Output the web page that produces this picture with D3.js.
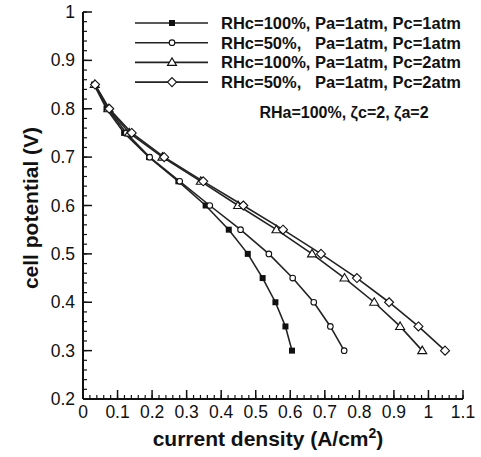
<!DOCTYPE html>
<html>
<head>
<meta charset="utf-8">
<script src="https://cdn.jsdelivr.net/npm/d3@7"></script>
<style>
body { margin: 0; background: #fff; }
svg { display: block; }
text { font-family: "Liberation Sans", Arial, sans-serif; fill: #111; }
</style>
</head>
<body>
<svg id="chart" width="481" height="457"></svg>
<script>
// voltages shared by all curves
var voltage = [0.85, 0.8, 0.75, 0.7, 0.65, 0.6, 0.55, 0.5, 0.45, 0.4, 0.35, 0.3];

// current density per series (A/cm2)
var rh100p1 = [0.032, 0.068, 0.119, 0.191, 0.276, 0.355, 0.422, 0.477, 0.520, 0.557, 0.586, 0.605];
var rh50p1  = [0.034, 0.072, 0.125, 0.193, 0.280, 0.367, 0.456, 0.538, 0.607, 0.668, 0.716, 0.756];
var rh100p2 = [0.034, 0.074, 0.134, 0.230, 0.341, 0.449, 0.560, 0.663, 0.757, 0.843, 0.918, 0.982];
var rh50p2  = [0.035, 0.076, 0.141, 0.235, 0.348, 0.464, 0.579, 0.689, 0.793, 0.886, 0.971, 1.048];

var seriesNames = [
    'RHc=100%, Pa=1atm, Pc=1atm',
    'RHc=50%,   Pa=1atm, Pc=1atm',
    'RHc=100%, Pa=1atm, Pc=2atm',
    'RHc=50%,   Pa=1atm, Pc=2atm'
];
var markers = ['square', 'circle', 'triangle', 'diamond'];
var xTicks = [0, 0.1, 0.2, 0.3, 0.4, 0.5, 0.6, 0.7, 0.8, 0.9, 1, 1.1];
var yTicks = [0.2, 0.3, 0.4, 0.5, 0.6, 0.7, 0.8, 0.9, 1];

var svg = d3.select('#chart');
var x = d3.scaleLinear().domain([0, 1.1]).range([83, 463]);
var y = d3.scaleLinear().domain([0.2, 1]).range([399, 12]);

// minor ticks every 0.02
var xMinor = d3.range(0, 1.1001, 0.02);
var yMinor = d3.range(0.2, 1.0001, 0.02);

var g = svg.append('g');

// axes lines
g.append('line').attr('x1', x(0)).attr('x2', x(1.1)).attr('y1', y(0.2)).attr('y2', y(0.2))
    .attr('stroke', '#111').attr('stroke-width', 2);
g.append('line').attr('x1', x(0)).attr('x2', x(0)).attr('y1', y(0.2)).attr('y2', y(1))
    .attr('stroke', '#111').attr('stroke-width', 2);

// inward ticks
g.selectAll('.xminor').data(xMinor).enter().append('line')
    .attr('x1', function(d) { return x(d); }).attr('x2', function(d) { return x(d); })
    .attr('y1', y(0.2)).attr('y2', y(0.2) - 4)
    .attr('stroke', '#111').attr('stroke-width', 1.2);
g.selectAll('.xmajor').data(xTicks).enter().append('line')
    .attr('x1', function(d) { return x(d); }).attr('x2', function(d) { return x(d); })
    .attr('y1', y(0.2)).attr('y2', y(0.2) - 9)
    .attr('stroke', '#111').attr('stroke-width', 1.5);
g.selectAll('.yminor').data(yMinor).enter().append('line')
    .attr('y1', function(d) { return y(d); }).attr('y2', function(d) { return y(d); })
    .attr('x1', x(0)).attr('x2', x(0) + 4)
    .attr('stroke', '#111').attr('stroke-width', 1.2);
g.selectAll('.ymajor').data(yTicks).enter().append('line')
    .attr('y1', function(d) { return y(d); }).attr('y2', function(d) { return y(d); })
    .attr('x1', x(0)).attr('x2', x(0) + 9)
    .attr('stroke', '#111').attr('stroke-width', 1.5);

// tick labels
g.selectAll('.xlab').data(xTicks).enter().append('text')
    .attr('x', function(d) { return x(d); }).attr('y', y(0.2) + 19)
    .attr('text-anchor', 'middle').attr('font-size', 17.5)
    .text(function(d) { return d; });
g.selectAll('.ylab').data(yTicks).enter().append('text')
    .attr('x', x(0) - 8).attr('y', function(d) { return y(d) + 6; })
    .attr('text-anchor', 'end').attr('font-size', 17.5)
    .text(function(d) { return d; });

// axis titles
var xt = g.append('text').attr('x', 268).attr('y', 446)
    .attr('text-anchor', 'middle').attr('font-size', 21).attr('font-weight', 'bold');
xt.append('tspan').text('current density (A/cm');
xt.append('tspan').attr('font-size', 14).attr('dy', -8).text('2');
xt.append('tspan').attr('dy', 8).text(')');

g.append('text').attr('transform', 'translate(38,208) rotate(-90)')
    .attr('text-anchor', 'middle').attr('font-size', 21).attr('font-weight', 'bold')
    .text('cell potential (V)');

// markers
function drawMarker(sel, type, cx, cy) {
    if (type === 'square') {
        sel.append('rect').attr('x', cx - 3).attr('y', cy - 3).attr('width', 6).attr('height', 6)
            .attr('fill', '#111');
    } else if (type === 'circle') {
        sel.append('circle').attr('cx', cx).attr('cy', cy).attr('r', 2.8)
            .attr('fill', '#fff').attr('stroke', '#111').attr('stroke-width', 1.1);
    } else if (type === 'triangle') {
        sel.append('path').attr('d', 'M' + cx + ',' + (cy - 4.5) + 'L' + (cx + 4.5) + ',' + (cy + 3) + 'L' + (cx - 4.5) + ',' + (cy + 3) + 'Z')
            .attr('fill', '#fff').attr('stroke', '#111').attr('stroke-width', 1.1);
    } else {
        sel.append('path').attr('d', 'M' + cx + ',' + (cy - 4.5) + 'L' + (cx + 4.5) + ',' + cy + 'L' + cx + ',' + (cy + 4.5) + 'L' + (cx - 4.5) + ',' + cy + 'Z')
            .attr('fill', '#fff').attr('stroke', '#111').attr('stroke-width', 1.1);
    }
}

var allSeries = [rh100p1, rh50p1, rh100p2, rh50p2];
var line = d3.line()
    .x(function(d) { return x(d[0]); })
    .y(function(d) { return y(d[1]); });

allSeries.forEach(function(vals, i) {
    var pts = vals.map(function(v, j) { return [v, voltage[j]]; });
    var sg = g.append('g');
    sg.append('path').datum(pts).attr('d', line)
        .attr('fill', 'none').attr('stroke', '#222').attr('stroke-width', 1.6);
    pts.forEach(function(p) { drawMarker(sg, markers[i], x(p[0]), y(p[1])); });
});

// legend
var legend = g.append('g');
seriesNames.forEach(function(name, i) {
    var ly = 23 + i * 19.7;
    legend.append('line').attr('x1', 135).attr('x2', 208).attr('y1', ly).attr('y2', ly)
        .attr('stroke', '#222').attr('stroke-width', 1.6);
    drawMarker(legend, markers[i], 172, ly);
    legend.append('text').attr('x', 221).attr('y', ly + 6)
        .attr('font-size', 16.5).attr('font-weight', 'bold')
        .style('white-space', 'pre').attr('xml:space', 'preserve')
        .text(name);
});
legend.append('text').attr('x', 344).attr('y', 118)
    .attr('text-anchor', 'middle').attr('font-size', 16).attr('font-weight', 'bold')
    .text('RHa=100%, ζc=2, ζa=2');
</script>
</body>
</html>
